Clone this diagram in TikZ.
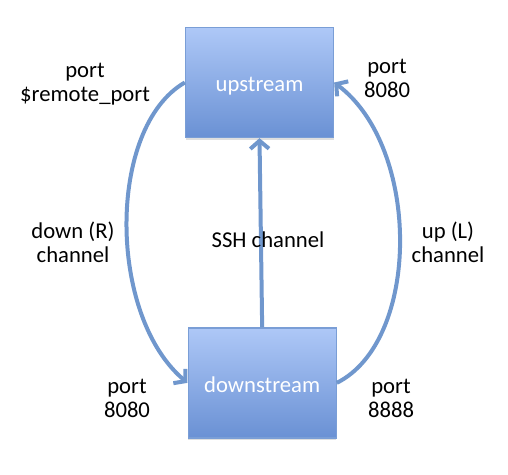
\documentclass[tikz,border=0pt]{standalone}
\usepackage{fontspec}
\setmainfont{Carlito}
\usetikzlibrary{positioning, arrows.meta, shadows}
\definecolor{boxtop}{RGB}{174,200,247}
\definecolor{boxbot}{RGB}{106,145,212}
\definecolor{boxline}{RGB}{122,158,214}
\definecolor{chanline}{RGB}{112,151,205}

\begin{document}
\begin{tikzpicture}[
    x=0.75pt, y=-0.75pt,
    hostbox/.style={rectangle, draw=boxline, line width=1pt, top color=boxtop, bottom color=boxbot,
        minimum width=111pt, minimum height=82.5pt, text=white, font=\fontsize{17}{20}\selectfont,
        text height=18pt, text depth=4pt,
        drop shadow={shadow xshift=0pt, shadow yshift=-1.5pt, opacity=0.25}},
    chan/.style={draw=chanline, line width=3pt, -{Straight Barb[length=6pt, width=14pt]}},
    portlabel/.style={align=center, font=\fontsize{17}{18}\selectfont}
]
\useasboundingbox (0,0) rectangle (508,475);
\node[hostbox](up) at (259.5,82.5){upstream};
\node[hostbox](down)[below=141.75pt of up, xshift=2pt]{downstream};

\draw[chan] (down.north) -- (up.south);
\draw[chan] (up.west) .. controls +(-78,45) and +(-80,-67) .. (down.west);
\draw[chan] (down.east) .. controls +(84,-42) and +(87,65) .. (up.east);

\node[portlabel](remport) at (85,84){port\\\$remote\_port};
\node[portlabel](upport) at (387,78){port\\8080};
\node[portlabel](downchan) at (73,242){down (R)\\channel};
\node[portlabel](sshchan) at (268,240){SSH channel};
\node[portlabel](upchan) at (448,242){up (L)\\channel};
\node[portlabel](fwdport) at (127,398){port\\8080};
\node[portlabel](locport) at (391,398){port\\8888};
\end{tikzpicture}
\end{document}
